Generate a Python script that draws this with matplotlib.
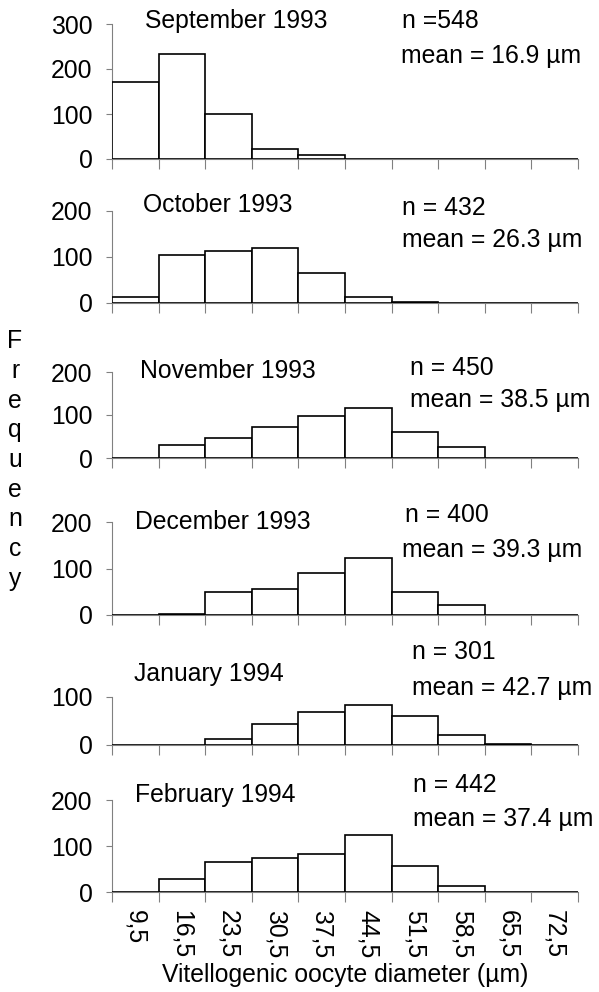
import numpy as np
import matplotlib
matplotlib.use("Agg")
import matplotlib.pyplot as plt

plt.rcParams['font.family'] = ['Liberation Sans', 'DejaVu Sans']

# bin labels (class lower limits, µm)
bin_labels = ["9,5", "16,5", "23,5", "30,5", "37,5", "44,5", "51,5", "58,5", "65,5", "72,5"]

months = ["September 1993", "October 1993", "November 1993",
          "December 1993", "January 1994", "February 1994"]
n_text = ["n =548", "n = 432", "n = 450", "n = 400", "n = 301", "n = 442"]
mean_text = ["mean = 16.9 µm", "mean = 26.3 µm", "mean = 38.5 µm",
             "mean = 39.3 µm", "mean = 42.7 µm", "mean = 37.4 µm"]

sep93 = [172, 233, 100, 22, 10, 0, 0, 0, 0, 0]
oct93 = [12, 104, 112, 120, 65, 12, 3, 0, 0, 0]
nov93 = [0, 30, 46, 73, 98, 117, 60, 26, 0, 0]
dec93 = [0, 3, 50, 55, 91, 123, 50, 22, 0, 0]
jan94 = [0, 0, 12, 43, 68, 84, 60, 20, 3, 0]
feb94 = [0, 28, 65, 73, 82, 123, 57, 13, 0, 0]
series = [sep93, oct93, nov93, dec93, jan94, feb94]

ymax = [300, 200, 200, 200, 100, 200]

W, H = 599, 992
fig = plt.figure(figsize=(W / 100, H / 100), dpi=100)

def fx(px):
    return px / W

def fy(py):
    return 1 - py / H

# axes layout in pixels: (y of zero line, y of top tick)
axes_px = [(159, 24), (303, 211), (458, 372), (615, 522), (745, 697), (892, 800)]
x0_px, x1_px = 112, 578

# text baselines in pixels: (month x, month y, n x, n y, mean x, mean y)
text_px = [(145, 28, 402, 28, 401, 63),
           (143, 212, 402, 215, 402, 247),
           (140, 378, 410, 375, 410, 407),
           (135, 529, 405, 522, 402, 557),
           (134, 681, 412, 659, 412, 695),
           (135, 802, 413, 792, 413, 826)]

fs = 17.8
x = np.arange(len(bin_labels))
spine_col = "#808080"

for i, vals in enumerate(series):
    zero, top = axes_px[i]
    ax = fig.add_axes([fx(x0_px), fy(zero), fx(x1_px - x0_px), (zero - top) / H])
    ax.bar(x, vals, width=1.0, color="white", edgecolor="black", linewidth=1.2, zorder=3)
    ax.set_xlim(-0.5, len(x) - 0.5)
    ax.set_ylim(0, ymax[i])
    ax.set_yticks(np.arange(0, ymax[i] + 1, 100))
    ax.tick_params(axis="y", labelsize=fs, length=4, color=spine_col, width=0.8, pad=10)
    ax.set_xticks(np.arange(-0.5, len(x), 1.0))
    ax.set_xticklabels([])
    ax.tick_params(axis="x", length=7, color=spine_col, width=0.8)
    if i == len(series) - 1:
        ax.set_xticks(x, minor=True)
        ax.set_xticklabels(bin_labels, minor=True, rotation=270, fontsize=fs)
        ax.tick_params(axis="x", which="minor", length=0, pad=13)
    for s in ["top", "right"]:
        ax.spines[s].set_visible(False)
    for s in ["left", "bottom"]:
        ax.spines[s].set_color(spine_col)
        ax.spines[s].set_linewidth(0.8)
    ax.patch.set_alpha(0)

    mx, my, nx, ny, ex, ey = text_px[i]
    fig.text(fx(mx), fy(my), months[i], fontsize=fs, va="baseline", ha="left")
    fig.text(fx(nx), fy(ny), n_text[i], fontsize=fs, va="baseline", ha="left")
    fig.text(fx(ex), fy(ey), mean_text[i], fontsize=fs, va="baseline", ha="left")

# vertical stacked y label
for k, ch in enumerate("Frequency"):
    fig.text(fx(15), fy(348 + 29.75 * k), ch, fontsize=fs, ha="center", va="baseline")

fig.text(fx(345), fy(982), "Vitellogenic oocyte diameter (µm)", fontsize=fs,
         ha="center", va="baseline")

fig.savefig("out.png", dpi=100)
